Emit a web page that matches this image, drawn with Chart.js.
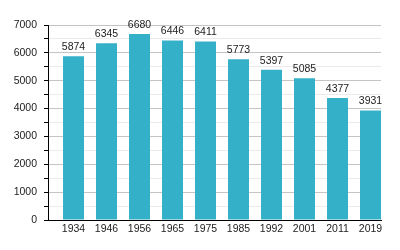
<!DOCTYPE html>
<html><head><meta charset="utf-8">
<script src="https://cdn.jsdelivr.net/npm/chart.js@4/dist/chart.umd.min.js"></script>
<style>html,body{margin:0;padding:0;background:#fff}#wrap{width:400px;height:250px}</style>
</head><body><div id="wrap"><canvas id="c" width="400" height="250"></canvas></div>
<script>
const years = ["1934","1946","1956","1965","1975","1985","1992","2001","2011","2019"];
const population = [5874,6345,6680,6446,6411,5773,5397,5085,4377,3931];
const yMax = 7000;
const yStep = 500;

const labelPlugin = {
  id: 'valueLabels',
  afterDatasetsDraw(chart) {
    const ctx = chart.ctx;
    const meta = chart.getDatasetMeta(0);
    ctx.save();
    ctx.font = '10.5px "Liberation Sans", Arial, sans-serif';
    ctx.fillStyle = '#222';
    ctx.textAlign = 'center';
    ctx.textBaseline = 'middle';
    meta.data.forEach((bar, i) => {
      ctx.fillText(String(population[i]), bar.x, bar.y - 9);
    });
    ctx.restore();
  }
};

Chart.defaults.font.family = '"Liberation Sans", Arial, sans-serif';
Chart.defaults.font.size = 10.5;
Chart.defaults.color = '#222';

new Chart(document.getElementById('c'), {
  type: 'bar',
  data: { datasets: [{ data: population.map((v, i) => ({ x: i, y: v })), backgroundColor: '#34b1c9', barPercentage: 0.636, categoryPercentage: 1.0 }] },
  options: {
    responsive: false,
    animation: false,
    devicePixelRatio: 1,
    layout: { padding: { left: 0, right: 19, top: 25, bottom: 0 } },
    plugins: { legend: { display: false }, tooltip: { enabled: false } },
    scales: {
      x: {
        type: 'linear',
        offset: false,
        min: -0.773, max: 9.318,
        afterBuildTicks(s) { s.ticks = years.map((_, i) => ({ value: i })); },
        grid: { display: false, drawTicks: false, tickLength: 0 },
        border: { display: true, color: '#000', width: 1 },
        ticks: { padding: 3, maxRotation: 0, autoSkip: false, color: '#222', callback: (v) => years[v] },
        afterFit(s) { s.height = 30; }
      },
      y: {
        min: 0, max: yMax,
        afterBuildTicks(s) { const t = []; for (let v = 0; v <= yMax; v += yStep) t.push({ value: v }); s.ticks = t; },
        grid: {
          color: (c) => (c.tick && c.tick.value % 1000 === 0) ? '#c4c4c4' : '#ebebeb',
          tickColor: '#000',
          tickLength: 4,
          drawTicks: true
        },
        border: { display: true, color: '#000', width: 1 },
        ticks: {
          padding: 7,
          color: '#222',
          autoSkip: false,
          callback: (v) => (v % 1000 === 0 ? String(v) : '')
        },
        afterFit(s) { s.width = 48; }
      }
    }
  },
  plugins: [labelPlugin]
});
</script></body></html>
